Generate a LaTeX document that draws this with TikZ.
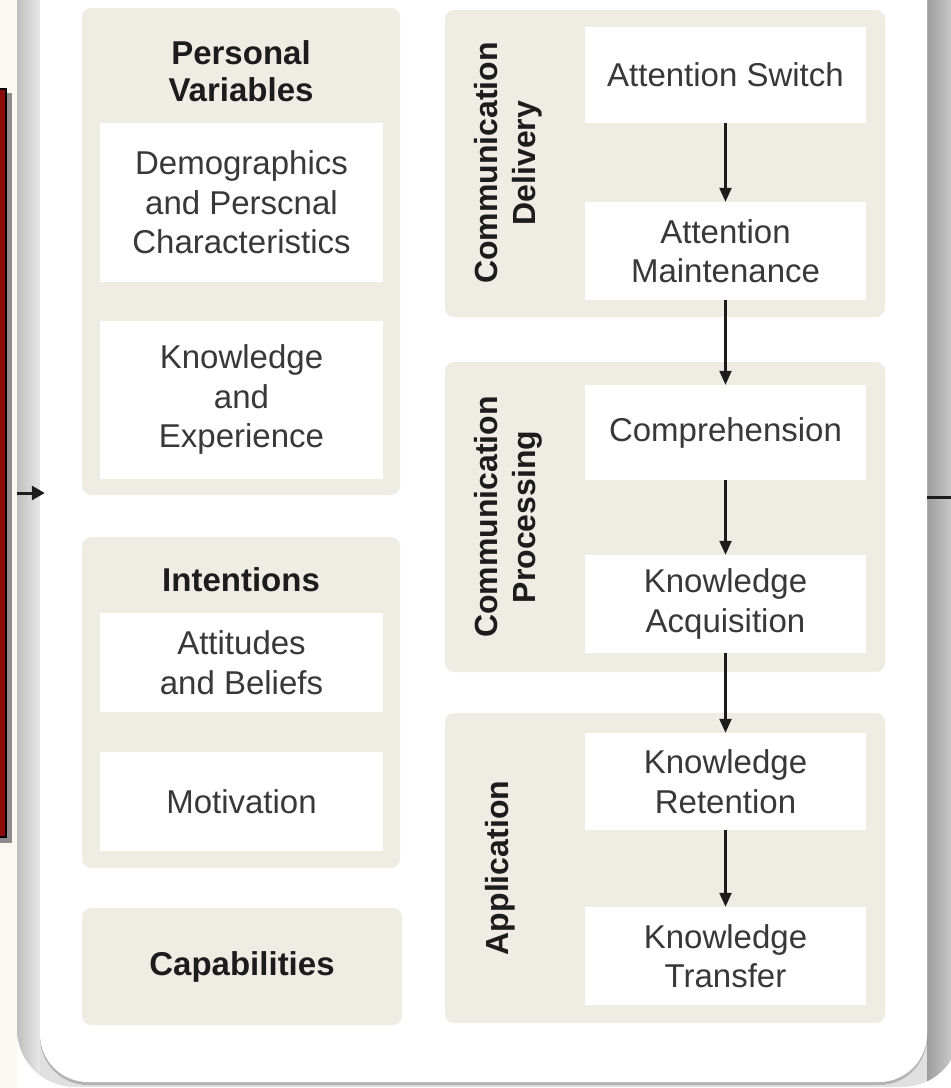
\documentclass[tikz,border=0pt]{standalone}
\usepackage{fontspec}
\setmainfont{Liberation Sans}
\usetikzlibrary{arrows.meta}
\definecolor{slidebg}{HTML}{FBF7F1}
\definecolor{grpfill}{HTML}{EFECE4}
\definecolor{redpanel}{HTML}{8C0B0B}
\definecolor{bodytxt}{HTML}{383838}
\definecolor{headtxt}{HTML}{1C1C1C}
\begin{document}
\begin{tikzpicture}[x=1pt,y=-1pt,
  grp/.style={fill=grpfill, rounded corners=9pt, inner sep=0pt},
  cell/.style={fill=white, inner sep=0pt, align=center, text=bodytxt,
    font=\fontsize{33}{39.5}\selectfont},
  lcell/.style={cell, minimum width=283pt},
  rcell/.style={cell, minimum width=281pt},
  head/.style={font=\bfseries\fontsize{33}{37}\selectfont, text=headtxt, align=center, inner sep=0pt},
  vhead/.style={head, rotate=90, font=\bfseries\fontsize{32}{38}\selectfont},
  flow/.style={-{Triangle[length=14pt,width=12pt]}, line width=2.3pt, headtxt},
  link/.style={-{Triangle[length=13pt,width=14pt]}, line width=3pt, headtxt}]
\useasboundingbox (0,0) rectangle (951,1088);
\clip (0,0) rectangle (951,1088);

% page: white sheet, slide background on the far left
\fill[white] (0,0) rectangle (951,1088);
\fill[slidebg] (0,0) rectangle (17,1088);

% soft shading round the main panel, following its rounded lower corners
\begin{scope}
  \clip[rounded corners=58pt] (17,-80) rectangle (960,1087);
  \fill[black!12] (17,-80) rectangle (960,1088);
  \shade[left color=black!25, right color=black!9] (17,-5) rectangle (40,1088);
  \shade[left color=black!38, right color=black!16] (927,-5) rectangle (960,1088);
\end{scope}
\fill[black!30, rounded corners=48pt] (40,-60) rectangle (927,1085);

% main panel
\node[fill=white, rounded corners=48pt, minimum width=887pt, minimum height=1142pt, inner sep=0pt]
  (panel) at (483.5,511) {};

% red side bar with its shadow
\fill[black!45] (-10,93) rectangle (12,843);
\node[draw=black, line width=2pt, fill=redpanel, minimum width=16pt, minimum height=748pt, inner sep=0pt]
  (redbar) at (-2,463) {};

% ---- left column ----
\node[grp, minimum width=318pt, minimum height=487pt] (pv) at (241,251.5) {};
\node[head] (pvhead) at (241,71.5) {Personal\\Variables};
\node[lcell, minimum height=159pt] (demo) at (241.5,202.5) {Demographics\\and Perscnal\\Characteristics};
\node[lcell, minimum height=158pt] (know) at (241.5,399.5) {Knowledge\\and\\Experience};

\node[grp, minimum width=318pt, minimum height=331pt] (intent) at (241,702.5) {};
\node[head] (intenthead) at (241,580) {Intentions};
\node[lcell, minimum height=99pt] (att) at (241.5,662.5) {Attitudes\\and Beliefs};
\node[lcell, minimum height=99pt] (mot) at (241.5,801.5) {Motivation};

\node[grp, minimum width=320pt, minimum height=117pt] (cap) at (242,966.5) {};
\node[head] (caphead) at (242,966.5) {Capabilities};

% ---- right column ----
\node[grp, minimum width=440pt, minimum height=307pt] (deliv) at (665,163.5) {};
\node[vhead] (delivhead) at (508,163) {Communication\\Delivery};
\node[rcell, minimum height=96pt] (sw) at (725.5,75) {Attention Switch};
\node[rcell, minimum height=98pt] (mt) at (725.5,251) {Attention\\Maintenance};

\node[grp, minimum width=440pt, minimum height=310pt] (proc) at (665,517) {};
\node[vhead] (prochead) at (508,517) {Communication\\Processing};
\node[rcell, minimum height=95pt] (comp) at (725.5,432.5) {Comprehension};
\node[rcell, minimum height=98pt] (acq) at (725.5,604) {Knowledge\\Acquisition};

\node[grp, minimum width=440pt, minimum height=310pt] (appl) at (665,868) {};
\node[vhead] (applhead) at (500,868) {Application};
\node[rcell, minimum height=97pt] (ret) at (725.5,781.5) {Knowledge\\Retention};
\node[rcell, minimum height=98pt] (tr) at (725.5,956) {Knowledge\\Transfer};

% ---- flow arrows ----
\draw[flow] (sw) -- (mt);
\draw[flow] (mt) -- (comp);
\draw[flow] (comp) -- (acq);
\draw[flow] (acq) -- (ret);
\draw[flow] (ret) -- (tr);

% ---- links in and out of the panel ----
\coordinate (inlink) at (17,493);
\coordinate (outlink) at (951,497);
\draw[link] (inlink) -- ([xshift=5pt]inlink -| panel.west);
\draw[line width=3pt, headtxt] (outlink -| panel.east) -- (outlink);
\end{tikzpicture}
\end{document}
